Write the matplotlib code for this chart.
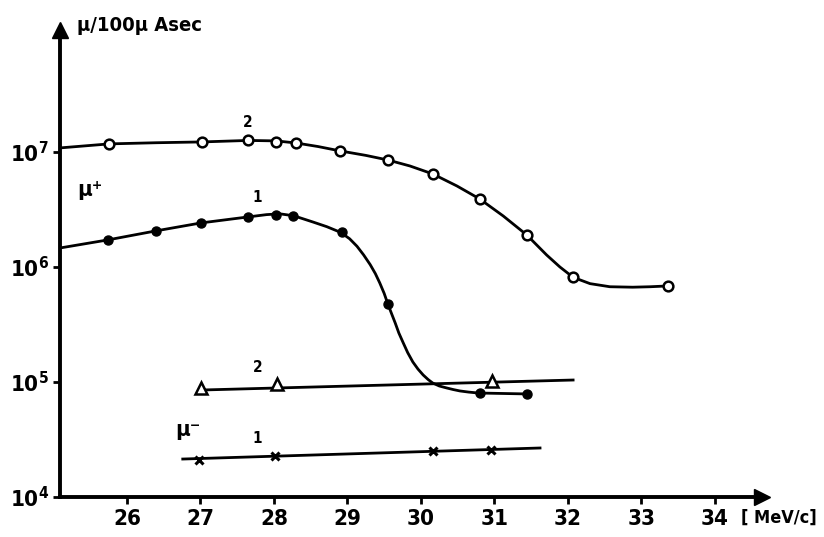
import matplotlib
matplotlib.use('Agg')
import matplotlib.pyplot as plt
import numpy as np

plt.rcParams['font.family'] = ['DejaVu Sans']
plt.rcParams['font.weight'] = 'bold'
plt.rcParams['font.stretch'] = 'condensed'
plt.rcParams['mathtext.fontset'] = 'custom'
plt.rcParams['mathtext.rm'] = 'DejaVu Sans:bold'
plt.rcParams['mathtext.bf'] = 'DejaVu Sans:bold'

# ---------------- data (log10 of rate per 100 uA sec) ----------------
x_ticks = [26, 27, 28, 29, 30, 31, 32, 33, 34]
x_tick_labels = ['26', '27', '28', '29', '30', '31', '32', '33', '34']
y_ticks = [1e4, 1e5, 1e6, 1e7]
y_tick_labels = [r'$\mathbf{10^{4}}$', r'$\mathbf{10^{5}}$', r'$\mathbf{10^{6}}$', r'$\mathbf{10^{7}}$']

# mu+ target 2 (open circles)
mup2_x = [25.76, 27.02, 27.65, 28.03, 28.30, 28.90, 29.55, 30.16, 30.80, 31.44, 32.07, 33.36]
mup2_log = [7.070, 7.087, 7.104, 7.087, 7.078, 7.009, 6.930, 6.809, 6.591, 6.278, 5.913, 5.835]
# hand-drawn curve through mu+ 2
mup2_curve_x = [25.09, 25.76, 26.40, 27.02, 27.65, 28.03, 28.30, 28.60, 28.90, 29.25, 29.55,
                29.85, 30.16, 30.49, 30.80, 31.12, 31.44, 31.71, 31.89, 32.07, 32.30, 32.57,
                32.88, 33.12, 33.36]
mup2_curve_log = [7.035, 7.070, 7.080, 7.087, 7.100, 7.096, 7.078, 7.047, 7.009, 6.970, 6.930,
                  6.878, 6.809, 6.704, 6.591, 6.443, 6.278, 6.104, 6.000, 5.910, 5.855, 5.828,
                  5.824, 5.828, 5.835]

# mu+ target 1 (filled dots)
mup1_x = [25.74, 26.39, 27.01, 27.65, 28.03, 28.26, 28.93, 29.55, 30.80, 31.44]
mup1_log = [6.235, 6.313, 6.383, 6.435, 6.452, 6.443, 6.304, 5.678, 4.904, 4.896]
mup1_curve_x = [25.09, 25.74, 26.39, 27.01, 27.65, 27.90, 28.08, 28.27, 28.53, 28.72, 28.91,
                29.03, 29.13, 29.22, 29.31, 29.38, 29.44, 29.50, 29.55, 29.60, 29.65, 29.70,
                29.76, 29.82, 29.89, 29.96, 30.03, 30.10, 30.16, 30.25, 30.35, 30.44, 30.53,
                30.65, 30.78, 31.44]
mup1_curve_log = [6.165, 6.235, 6.313, 6.383, 6.435, 6.455, 6.462, 6.445, 6.391, 6.350, 6.300,
                  6.245, 6.180, 6.105, 6.020, 5.942, 5.861, 5.770, 5.678, 5.595, 5.513, 5.425,
                  5.339, 5.255, 5.174, 5.112, 5.061, 5.020, 4.991, 4.965, 4.948, 4.934, 4.922,
                  4.912, 4.904, 4.896]

# mu- target 2 (triangles)
mum2_x = [27.01, 28.04, 30.97]
mum2_log = [4.948, 4.983, 5.009]
mum2_line_x = [27.01, 32.07]
mum2_line_log = [4.930, 5.017]

# mu- target 1 (crosses)
mum1_x = [26.98, 28.01, 30.16, 30.95]
mum1_log = [4.322, 4.357, 4.400, 4.409]
mum1_line_x = [26.76, 31.62]
mum1_line_log = [4.330, 4.426]

# ---------------- figure ----------------
fig = plt.figure(figsize=(8.24, 5.37), dpi=100)
ax = fig.add_axes([0.0728, 0.0745, 0.852, 0.8696])
ax.set_yscale('log')
ax.set_xlim(25.09, 34.64)
ax.set_ylim(1e4, 10 ** 8.06)


def p(v):
    return np.power(10.0, np.asarray(v))


lw = 2.0
ax.plot(mup2_curve_x, p(mup2_curve_log), color='black', lw=lw, zorder=2,
        solid_joinstyle='round')
ax.plot(mup2_x, p(mup2_log), linestyle='none', marker='o', ms=7, mfc='white', mec='black',
        mew=1.8, zorder=3)

ax.plot(mup1_curve_x, p(mup1_curve_log), color='black', lw=lw, zorder=2,
        solid_joinstyle='round')
ax.plot(mup1_x, p(mup1_log), linestyle='none', marker='o', ms=6.5, mfc='black', mec='black',
        zorder=3)

ax.plot(mum2_line_x, p(mum2_line_log), color='black', lw=lw, zorder=2)
ax.plot(mum2_x, p(mum2_log), linestyle='none', marker='^', ms=9, mfc='white', mec='black',
        mew=1.8, zorder=3)

ax.plot(mum1_line_x, p(mum1_line_log), color='black', lw=lw, zorder=2)
ax.plot(mum1_x, p(mum1_log), linestyle='none', marker='x', ms=6, mec='black', mew=2.2,
        zorder=3)

# axes styling
for s in ['top', 'right']:
    ax.spines[s].set_visible(False)
for s in ['left', 'bottom']:
    ax.spines[s].set_linewidth(2.8)
ax.minorticks_off()
ax.set_xticks(x_ticks)
ax.set_xticklabels(x_tick_labels)
ax.set_yticks(y_ticks)
ax.set_yticklabels(y_tick_labels)
ax.tick_params(axis='x', direction='out', length=5, width=2, pad=4, labelsize=16)
ax.tick_params(axis='y', direction='out', length=5, width=2, pad=3, labelsize=16)

# arrow heads
ax.plot(1.0, 0.0, marker='>', ms=11, color='black', transform=ax.transAxes, clip_on=False)
ax.plot(0.0, 1.0, marker='^', ms=11, color='black', transform=ax.transAxes, clip_on=False)

# axis labels
ax.text(0.024, 1.0107, 'μ/100μ Asec', transform=ax.transAxes, fontsize=14.5,
        fontweight='bold', ha='left', va='center')
ax.text(0.970, -0.045, '[ MeV/c]', transform=ax.transAxes, fontsize=13, fontweight='bold',
        ha='left', va='center')

# annotations
ax.text(27.65, 10 ** 7.26, '2', fontsize=11, fontweight='bold', ha='center', va='center')
ax.text(27.78, 10 ** 6.60, '1', fontsize=11, fontweight='bold', ha='center', va='center')
ax.text(25.5, 10 ** 6.67, 'μ⁺', fontsize=16, fontweight='bold', ha='center', va='center')
ax.text(27.78, 10 ** 5.13, '2', fontsize=11, fontweight='bold', ha='center', va='center')
ax.text(26.83, 10 ** 4.58, 'μ⁻', fontsize=16, fontweight='bold', ha='center', va='center')
ax.text(27.77, 10 ** 4.51, '1', fontsize=11, fontweight='bold', ha='center', va='center')

fig.savefig('out.png', dpi=100)
